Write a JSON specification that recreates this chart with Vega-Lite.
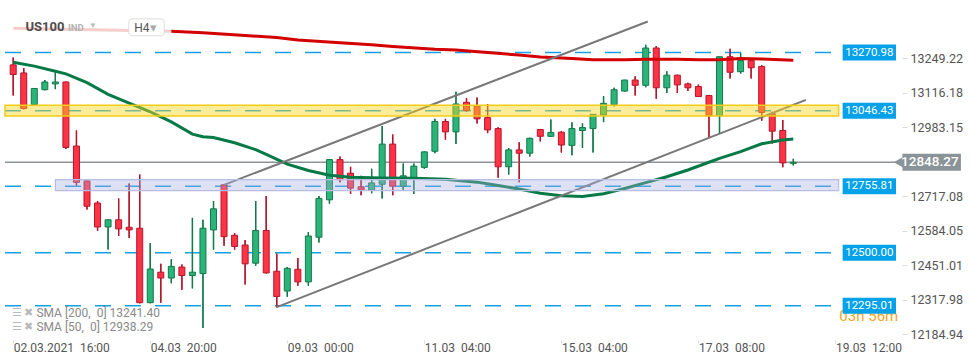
{
"$schema": "https://vega.github.io/schema/vega-lite/v6.json",
"width": 902, "height": 340, "padding": 0, "autosize": {"type": "pad"},
"background": "white",
"config": {"view": {"stroke": null}, "font": "Roboto"},
"data": {"values": [{}]},
"datasets": {
"candles": [
{"i":0,"o":13223.5,"h":13252.3,"l":13105.3,"c":13186.1},
{"i":1,"o":13192.4,"h":13211.1,"l":13053.0,"c":13055.2},
{"i":2,"o":13070.1,"h":13134.0,"l":13068.0,"c":13132.6},
{"i":3,"o":13127.7,"h":13165.1,"l":13126.0,"c":13157.6},
{"i":4,"o":13150.2,"h":13195.0,"l":13130.0,"c":13157.6},
{"i":5,"o":13157.6,"h":13159.0,"l":12899.6,"c":12905.6},
{"i":6,"o":12910.8,"h":12970.7,"l":12758.6,"c":12771.0},
{"i":7,"o":12776.2,"h":12777.0,"l":12666.2,"c":12678.9},
{"i":8,"o":12691.3,"h":12698.8,"l":12584.0,"c":12598.9},
{"i":9,"o":12598.9,"h":12628.0,"l":12511.8,"c":12626.6},
{"i":10,"o":12626.6,"h":12708.9,"l":12564.2,"c":12591.5},
{"i":11,"o":12597.8,"h":12766.1,"l":12556.7,"c":12587.7},
{"i":12,"o":12594.1,"h":12800.9,"l":12305.0,"c":12307.2},
{"i":13,"o":12307.2,"h":12536.9,"l":12305.0,"c":12437.0},
{"i":14,"o":12424.7,"h":12456.8,"l":12307.2,"c":12402.2},
{"i":15,"o":12402.2,"h":12474.4,"l":12382.0,"c":12447.1},
{"i":16,"o":12444.5,"h":12454.6,"l":12357.3,"c":12411.9},
{"i":17,"o":12411.9,"h":12634.1,"l":12362.2,"c":12424.7},
{"i":18,"o":12419.4,"h":12626.6,"l":12210.0,"c":12594.1},
{"i":19,"o":12587.7,"h":12698.8,"l":12511.8,"c":12668.9},
{"i":20,"o":12761.2,"h":12763.0,"l":12526.8,"c":12561.5},
{"i":21,"o":12566.8,"h":12575.4,"l":12511.8,"c":12524.1},
{"i":22,"o":12529.4,"h":12549.2,"l":12377.2,"c":12456.8},
{"i":23,"o":12459.4,"h":12698.8,"l":12449.3,"c":12585.5},
{"i":24,"o":12585.5,"h":12718.6,"l":12419.4,"c":12422.0},
{"i":25,"o":12428.4,"h":12496.8,"l":12290.0,"c":12331.2},
{"i":26,"o":12352.1,"h":12444.5,"l":12329.7,"c":12439.6},
{"i":27,"o":12435.9,"h":12479.3,"l":12372.3,"c":12387.3},
{"i":28,"o":12387.3,"h":12579.1,"l":12372.3,"c":12564.2},
{"i":29,"o":12559.3,"h":12718.6,"l":12539.1,"c":12708.9},
{"i":30,"o":12703.6,"h":12860.0,"l":12688.7,"c":12858.5},
{"i":31,"o":12858.5,"h":12870.8,"l":12771.0,"c":12781.1},
{"i":32,"o":12806.1,"h":12830.8,"l":12726.1,"c":12748.5},
{"i":33,"o":12753.8,"h":12796.0,"l":12721.2,"c":12741.0},
{"i":34,"o":12741.0,"h":12823.3,"l":12728.7,"c":12768.7},
{"i":35,"o":12763.5,"h":12987.9,"l":12708.9,"c":12918.3},
{"i":36,"o":12918.3,"h":12955.7,"l":12721.2,"c":12756.0},
{"i":37,"o":12756.0,"h":12843.5,"l":12741.0,"c":12796.0},
{"i":38,"o":12785.9,"h":12843.5,"l":12726.1,"c":12833.4},
{"i":39,"o":12828.5,"h":12890.0,"l":12823.3,"c":12888.4},
{"i":40,"o":12890.6,"h":13015.5,"l":12883.1,"c":13005.4},
{"i":41,"o":13005.4,"h":13015.5,"l":12935.5,"c":12965.4},
{"i":42,"o":12965.4,"h":13120.2,"l":12918.3,"c":13072.8},
{"i":43,"o":13079.1,"h":13095.2,"l":13042.8,"c":13047.7},
{"i":44,"o":13065.3,"h":13097.8,"l":12998.0,"c":13015.5},
{"i":45,"o":13020.4,"h":13072.8,"l":12960.6,"c":12972.9},
{"i":46,"o":12978.1,"h":12983.0,"l":12788.5,"c":12830.8},
{"i":47,"o":12830.8,"h":12903.3,"l":12800.9,"c":12895.9},
{"i":48,"o":12895.9,"h":12925.8,"l":12771.0,"c":12883.1},
{"i":49,"o":12883.1,"h":12943.0,"l":12870.8,"c":12940.7},
{"i":50,"o":12974.4,"h":12976.0,"l":12928.0,"c":12948.2},
{"i":51,"o":12948.2,"h":13012.9,"l":12947.0,"c":12963.2},
{"i":52,"o":12964.3,"h":12968.0,"l":12885.8,"c":12914.6},
{"i":53,"o":12913.1,"h":13002.8,"l":12875.7,"c":12978.1},
{"i":54,"o":12970.7,"h":12998.0,"l":12903.4,"c":12981.9},
{"i":55,"o":12978.1,"h":13034.0,"l":12885.8,"c":13032.7},
{"i":56,"o":13030.5,"h":13102.7,"l":13002.8,"c":13075.4},
{"i":57,"o":13070.1,"h":13135.2,"l":13062.7,"c":13127.7},
{"i":58,"o":13122.5,"h":13166.0,"l":13120.2,"c":13165.1},
{"i":59,"o":13165.1,"h":13180.1,"l":13105.3,"c":13144.9},
{"i":60,"o":13144.9,"h":13300.9,"l":13137.5,"c":13288.5},
{"i":61,"o":13288.5,"h":13296.0,"l":13092.6,"c":13135.2},
{"i":62,"o":13135.2,"h":13198.8,"l":13115.0,"c":13183.8},
{"i":63,"o":13183.8,"h":13185.0,"l":13115.0,"c":13146.4},
{"i":64,"o":13150.2,"h":13155.0,"l":13122.5,"c":13135.2},
{"i":65,"o":13140.1,"h":13147.5,"l":13100.0,"c":13101.5},
{"i":66,"o":13105.3,"h":13106.5,"l":12945.6,"c":13027.9},
{"i":67,"o":13027.9,"h":13256.0,"l":12957.9,"c":13254.9},
{"i":68,"o":13254.9,"h":13285.9,"l":13171.1,"c":13195.0},
{"i":69,"o":13197.3,"h":13269.8,"l":13189.8,"c":13239.9},
{"i":70,"o":13239.9,"h":13241.0,"l":13171.1,"c":13212.2},
{"i":71,"o":13217.5,"h":13222.3,"l":13008.1,"c":13040.2},
{"i":72,"o":13035.4,"h":13042.8,"l":12920.5,"c":12968.0},
{"i":73,"o":12970.7,"h":13011.0,"l":12828.6,"c":12845.8},
{"i":74,"o":12844.0,"h":12862.2,"l":12836.0,"c":12848.27}
],
"sma200": [
{"i":0,"v":13364.4},{"i":5,"v":13360.7},{"i":10,"v":13357.0},{"i":15,"v":13353.2},{"i":18,"v":13347.6},{"i":22,"v":13336.4},{"i":25,"v":13328.9},{"i":27,"v":13319.6},{"i":31,"v":13308.3},{"i":34,"v":13300.9},{"i":36,"v":13294.5},{"i":40,"v":13284.0},{"i":42,"v":13281.0},{"i":45,"v":13270.9},{"i":48,"v":13261.6},{"i":50,"v":13254.1},{"i":53,"v":13248.5},{"i":55,"v":13242.9},{"i":58,"v":13242.9},{"i":60,"v":13244.8},{"i":63,"v":13244.8},{"i":65,"v":13242.9},{"i":67,"v":13242.9},{"i":69,"v":13247.8},{"i":71,"v":13246.6},{"i":74,"v":13241.4}
],
"sma50": [
{"i":0,"v":13233.6},{"i":2,"v":13218.6},{"i":4,"v":13198.8},{"i":5,"v":13188.7},{"i":7,"v":13155.0},{"i":9,"v":13110.2},{"i":11,"v":13076.5},{"i":13,"v":13042.8},{"i":15,"v":13003.6},{"i":17,"v":12956.8},{"i":18,"v":12946.7},{"i":19,"v":12943.7},{"i":21,"v":12923.2},{"i":23,"v":12897.0},{"i":24,"v":12878.3},{"i":26,"v":12840.9},{"i":28,"v":12816.6},{"i":30,"v":12797.9},{"i":32,"v":12790.4},{"i":35,"v":12787.4},{"i":38,"v":12786.7},{"i":41,"v":12782.9},{"i":44,"v":12771.7},{"i":46,"v":12758.6},{"i":48,"v":12745.5},{"i":50,"v":12728.7},{"i":52,"v":12719.3},{"i":54,"v":12716.3},{"i":56,"v":12726.8},{"i":58,"v":12747.4},{"i":60,"v":12769.8},{"i":62,"v":12792.3},{"i":64,"v":12818.5},{"i":66,"v":12848.4},{"i":67,"v":12863.3},{"i":69,"v":12889.5},{"i":71,"v":12919.4},{"i":73,"v":12934.4},{"i":74,"v":12938.29}
],
"levels": [{"level":13270.98},{"level":13046.43},{"level":12755.81},{"level":12500.00},{"level":12295.01}],
"bands": [
{"name":"yellow","i0":-0.78,"i1":78.3,"lo":13026.8,"hi":13067.9},
{"name":"lavender","i0":4.0,"i1":78.3,"lo":12738.6,"hi":12781.1}
],
"trends": [
{"id":"upper","i":20,"v":12761.2},{"id":"upper","i":60.2,"v":13390.6},
{"id":"lower","i":25,"v":12290.0},{"id":"lower","i":75.2,"v":13088.8}
]
},
"layer": [
{"data": {"name": "candles"},
 "mark": {"type": "rule", "strokeWidth": 1.3},
 "encoding": {
  "x": {"field": "i", "type": "quantitative", "title": null,
   "scale": {"domain": [-0.7786, 83.836], "nice": false, "zero": false},
   "axis": {"values": [0,13,26,39,52,65,78], "labelExpr": "datum.value==0?'02.03.2021\u00a0\u00a016:00':datum.value==13?'04.03\u00a0\u00a020:00':datum.value==26?'09.03\u00a0\u00a000:00':datum.value==39?'11.03\u00a0\u00a004:00':datum.value==52?'15.03\u00a0\u00a004:00':datum.value==65?'17.03\u00a0\u00a008:00':'19.03\u00a0\u00a012:00'", "labelAlign": "left", "labelFontSize": 12, "labelColor": "#555555", "tickColor": "#dddddd", "tickSize": 3, "labelPadding": -1, "domain": false, "grid": false, "title": null, "labelFlush": false, "labelOverlap": false}},
  "y": {"field": "l", "type": "quantitative", "title": null,
   "scale": {"domain": [12182.7, 13454.2], "nice": false, "zero": false},
   "axis": {"orient": "right", "values": [13249.22, 13116.18, 12983.15, 12717.08, 12584.05, 12451.01, 12317.98, 12184.94], "format": ".2f", "labelFontSize": 12.5, "labelColor": "#555555", "tickColor": "#dddddd", "tickSize": 5, "labelPadding": 3, "domain": false, "grid": false, "title": null, "labelOverlap": false, "labelFlush": false}},
  "y2": {"field": "h"},
  "color": {"condition": {"test": "datum.c >= datum.o", "value": "#137a4a"}, "value": "#b5152b"}
 }},
{"data": {"name": "levels"},
 "mark": {"type": "rule", "stroke": "#14a0e6", "strokeWidth": 1.5, "strokeDash": [16, 14]},
 "encoding": {"x": {"datum": -0.7786}, "x2": {"datum": 78.68}, "y": {"field": "level", "type": "quantitative", "title": null}}},
{"mark": {"type": "rule", "stroke": "#8d9397", "strokeWidth": 1.3},
 "encoding": {"x": {"datum": -0.7786}, "x2": {"datum": 83.9}, "y": {"datum": 12848.27}}},
{"data": {"name": "candles"},
 "mark": {"type": "rule", "strokeWidth": 1.3},
 "encoding": {"x": {"field": "i", "type": "quantitative"}, "y": {"field": "l", "type": "quantitative"}, "y2": {"field": "h"},
  "color": {"condition": {"test": "datum.c >= datum.o", "value": "#137a4a"}, "value": "#b5152b"}}},
{"data": {"name": "candles"},
 "mark": {"type": "bar", "size": 6, "strokeWidth": 1, "orient": "vertical"},
 "encoding": {"x": {"field": "i", "type": "quantitative"}, "y": {"field": "o", "type": "quantitative"}, "y2": {"field": "c"},
  "fill": {"condition": {"test": "datum.c >= datum.o", "value": "#2bb47a"}, "value": "#ff3346"},
  "stroke": {"condition": {"test": "datum.c >= datum.o", "value": "#137a4a"}, "value": "#b5152b"}}},
{"data": {"name": "sma200"}, "transform": [{"filter": "datum.i <= 15"}],
 "mark": {"type": "line", "stroke": "#d40000", "strokeWidth": 3, "opacity": 0.2},
 "encoding": {"x": {"field": "i", "type": "quantitative"}, "y": {"field": "v", "type": "quantitative"}}},
{"data": {"name": "sma200"}, "transform": [{"filter": "datum.i >= 15"}],
 "mark": {"type": "line", "stroke": "#d40000", "strokeWidth": 3},
 "encoding": {"x": {"field": "i", "type": "quantitative"}, "y": {"field": "v", "type": "quantitative"}}},
{"data": {"name": "sma50"},
 "mark": {"type": "line", "stroke": "#067a46", "strokeWidth": 3},
 "encoding": {"x": {"field": "i", "type": "quantitative"}, "y": {"field": "v", "type": "quantitative"}}},
{"data": {"name": "trends"},
 "mark": {"type": "line", "stroke": "#787878", "strokeWidth": 2},
 "encoding": {"x": {"field": "i", "type": "quantitative"}, "y": {"field": "v", "type": "quantitative"}, "detail": {"field": "id"}}},
{"data": {"name": "bands"}, "transform": [{"filter": "datum.name == 'yellow'"}],
 "mark": {"type": "rect", "fill": "#fad81e", "fillOpacity": 0.45, "stroke": "#f3cc16", "strokeWidth": 1.5},
 "encoding": {"x": {"field": "i0", "type": "quantitative"}, "x2": {"field": "i1"}, "y": {"field": "lo", "type": "quantitative"}, "y2": {"field": "hi"}}},
{"data": {"name": "bands"}, "transform": [{"filter": "datum.name == 'lavender'"}],
 "mark": {"type": "rect", "fill": "#a9aee0", "fillOpacity": 0.38, "stroke": "#b7bce3", "strokeWidth": 1.2},
 "encoding": {"x": {"field": "i0", "type": "quantitative"}, "x2": {"field": "i1"}, "y": {"field": "lo", "type": "quantitative"}, "y2": {"field": "hi"}}},
{"mark": {"type": "rect", "fill": "white", "stroke": "#dcdcdc", "strokeWidth": 1, "cornerRadius": 3},
 "encoding": {"x": {"datum": 10.97}, "x2": {"datum": 14.32}, "y": {"datum": 13400.6}, "y2": {"datum": 13335.6}}},
{"mark": {"type": "text", "text": "US100", "align": "left", "baseline": "middle", "fontSize": 13, "fontWeight": "bold", "fill": "#4d4d4d"},
 "encoding": {"x": {"datum": 1.16}, "y": {"datum": 13368.2}}},
{"mark": {"type": "text", "text": "IND", "align": "left", "baseline": "middle", "fontSize": 9.5, "fontWeight": "bold", "fill": "#b3b3b3"},
 "encoding": {"x": {"datum": 5.2}, "y": {"datum": 13364.4}}},
{"mark": {"type": "text", "text": "▼", "align": "center", "baseline": "middle", "fontSize": 8, "fill": "#bdbdbd"},
 "encoding": {"x": {"datum": 7.57}, "y": {"datum": 13371.9}}},
{"mark": {"type": "text", "text": "H4", "align": "left", "baseline": "middle", "fontSize": 12, "fill": "#555555"},
 "encoding": {"x": {"datum": 11.48}, "y": {"datum": 13365.6}}},
{"mark": {"type": "text", "text": "▾", "align": "center", "baseline": "middle", "fontSize": 13, "fill": "#aaaaaa"},
 "encoding": {"x": {"datum": 13.35}, "y": {"datum": 13365.6}}},
{"mark": {"type": "text", "text": "☰ ✖", "align": "left", "baseline": "middle", "fontSize": 11, "fill": "#b9b9b9"},
 "encoding": {"x": {"datum": -0.15}, "y": {"datum": 12266.9}}},
{"mark": {"type": "text", "text": "☰ ✖", "align": "left", "baseline": "middle", "fontSize": 11, "fill": "#b9b9b9"},
 "encoding": {"x": {"datum": -0.15}, "y": {"datum": 12214.5}}},
{"mark": {"type": "text", "text": "SMA [200,\u00a0\u00a00] 13241.40", "align": "left", "baseline": "middle", "fontSize": 12, "fill": "#8a8a8a"},
 "encoding": {"x": {"datum": 2.2}, "y": {"datum": 12266.9}}},
{"mark": {"type": "text", "text": "SMA [50,\u00a0\u00a00] 12938.29", "align": "left", "baseline": "middle", "fontSize": 12, "fill": "#8a8a8a"},
 "encoding": {"x": {"datum": 2.2}, "y": {"datum": 12214.5}}},
{"mark": {"type": "text", "text": "03h 56m", "align": "center", "baseline": "middle", "fontSize": 15, "fill": "#f5a623"},
 "encoding": {"x": {"datum": 81.16}, "y": {"datum": 12254.0}}},
{"data": {"name": "levels"},
 "mark": {"type": "bar", "orient": "horizontal", "size": 16, "fill": "#06a2e9"},
 "encoding": {"x": {"datum": 78.68}, "x2": {"datum": 83.74}, "y": {"field": "level", "type": "quantitative"}}},
{"data": {"name": "levels"},
 "mark": {"type": "text", "align": "center", "baseline": "middle", "fontSize": 11.5, "fill": "white"},
 "encoding": {"x": {"datum": 81.21}, "y": {"field": "level", "type": "quantitative"}, "text": {"field": "level", "type": "quantitative", "format": ".2f"}}},
{"mark": {"type": "point", "shape": "triangle-left", "size": 260, "filled": true, "fill": "#8a9398", "opacity": 1},
 "encoding": {"x": {"datum": 84.2}, "y": {"datum": 12848.27}}},
{"mark": {"type": "bar", "orient": "horizontal", "size": 17, "fill": "#8a9398"},
 "encoding": {"x": {"datum": 84.35}, "x2": {"datum": 89.9}, "y": {"datum": 12848.27}}},
{"mark": {"type": "text", "text": "12848.27", "align": "center", "baseline": "middle", "fontSize": 13.5, "fontWeight": 500, "fill": "white"},
 "encoding": {"x": {"datum": 86.95}, "y": {"datum": 12848.27}}}
]
}
